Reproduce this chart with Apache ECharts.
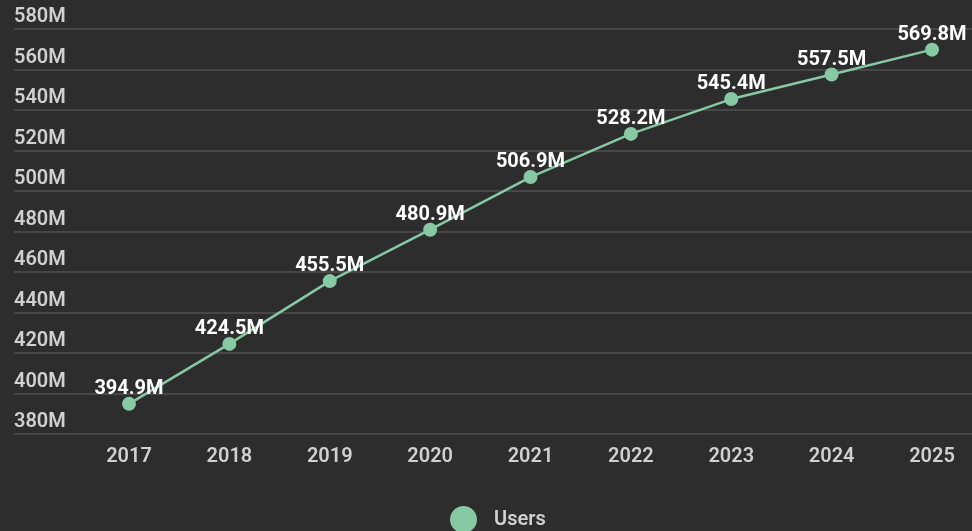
<!DOCTYPE html>
<html><head><meta charset="utf-8">
<script src="https://cdn.jsdelivr.net/npm/echarts@6/dist/echarts.min.js"></script>
<style>html,body{margin:0;padding:0;background:#2d2d2d;}#c{width:972px;height:531px;}</style>
</head><body><div id="c"></div>
<script>
const years = ['2017','2018','2019','2020','2021','2022','2023','2024','2025'];
const users = [394.9, 424.5, 455.5, 480.9, 506.9, 528.2, 545.4, 557.5, 569.8];
const yMin = 380, yMax = 580, yStep = 20;
const chart = echarts.init(document.getElementById('c'));
const font = 'Roboto, "Noto Sans", sans-serif';
chart.setOption({
  backgroundColor: '#2d2d2d',
  animation: false,
  textStyle: {fontFamily: font},
  legend: {
    bottom: -2, padding: 0, left: 450, icon: 'circle', itemWidth: 27, itemHeight: 27, itemGap: 10,
    textStyle: {color: '#d0d0d0', fontSize: 20, fontWeight: 600, fontFamily: font, padding: [0,0,0,12]},
    data: ['Users']
  },
  grid: [
    {left: 14, right: 0, top: 29, bottom: 97},
    {left: 129, right: 40, top: 29, bottom: 97}
  ],
  xAxis: [
    {gridIndex: 0, type: 'category', data: years, show: false},
    {gridIndex: 1, type: 'category', data: years, boundaryGap: false,
     axisLine: {show: false}, axisTick: {show: false}, splitLine: {show: false},
     axisLabel: {color: '#d0d0d0', fontSize: 20, fontWeight: 600, margin: 13, fontFamily: font}}
  ],
  yAxis: [
    {gridIndex: 0, type: 'value', min: yMin, max: yMax, interval: yStep,
     axisLine: {show: false}, axisTick: {show: false},
     splitLine: {lineStyle: {color: '#474747', width: 2}},
     axisLabel: {inside: true, align: 'left', verticalAlign: 'bottom', margin: 0, padding: [0,0,2,0],
       color: '#d0d0d0', fontSize: 20, fontWeight: 600, fontFamily: font,
       formatter: v => v + 'M'}},
    {gridIndex: 1, type: 'value', min: yMin, max: yMax, interval: yStep, show: false}
  ],
  series: [{
    name: 'Users', type: 'line', xAxisIndex: 1, yAxisIndex: 1, data: users,
    symbol: 'circle', symbolSize: 14,
    itemStyle: {color: '#86c9a3'},
    lineStyle: {color: '#86c9a3', width: 2.5},
    label: {show: true, position: 'top', distance: 0, offset: [0, 2], color: '#ffffff', fontSize: 20, fontWeight: 'bold',
      fontFamily: font, formatter: p => p.value.toFixed(1) + 'M'}
  }]
});
</script></body></html>
